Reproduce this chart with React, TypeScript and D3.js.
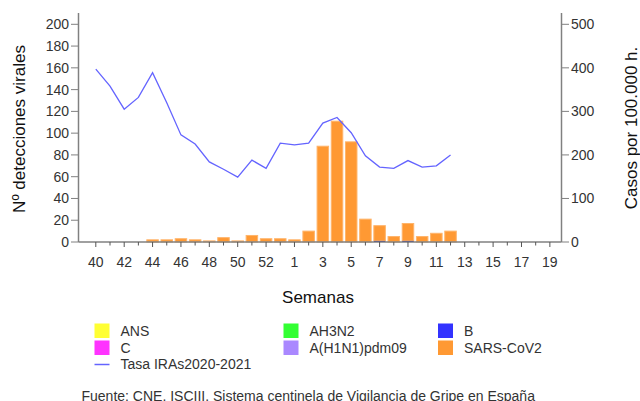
import React from 'react';
import * as d3 from 'd3';

// weeks of season 2020-2021 (2020 had 53 weeks)
const weeks = ['40','41','42','43','44','45','46','47','48','49','50','51','52','53',
  '1','2','3','4','5','6','7','8','9','10','11','12','13','14','15','16','17','18','19'];

// viral detections per week (only SARS-CoV2 and a couple of B appear)
const sarsCov2 = [0,0,0,0,2,2,3,2,1,4,1,6,3,3,2,10,88,111,92,21,14,5,16,5,8,10];
const bVirus = [0,0,0,0,0,0,0,0,0,0,0,0,0,0,0,0,0,0,0,0,1,0,1,0,0,0];

// ILI rate per 100.000 inhabitants
const tasaIras = [397,358,305,332,389,320,246,225,184,167,149,188,169,227,223,227,273,286,251,198,172,169,187,172,175,200];

const leftTicks = [0,20,40,60,80,100,120,140,160,180,200];
const rightTicks = [0,100,200,300,400,500];

const legendItems = [
  { name: 'ANS', color: '#ffff33', type: 'box' },
  { name: 'AH3N2', color: '#33ff33', type: 'box' },
  { name: 'B', color: '#3333ff', type: 'box' },
  { name: 'C', color: '#ff33ff', type: 'box' },
  { name: 'A(H1N1)pdm09', color: '#aa88ff', type: 'box' },
  { name: 'SARS-CoV2', color: '#ff9933', type: 'box' },
  { name: 'Tasa IRAs2020-2021', color: '#6464ff', type: 'line' },
];

const font = '"Liberation Sans", Arial, sans-serif';
const textColor = '#333';
const axisColor = '#808080';

export default function App() {
  const x = d3.scaleLinear().domain([-1.22, 32.82]).range([78.5, 561.5]);
  const yL = d3.scaleLinear().domain([0, 200]).range([242, 24.3]);
  const yR = d3.scaleLinear().domain([0, 500]).range([242, 24.3]);
  const barW = 11.5;

  const line = d3.line<number>()
    .x((d, i) => x(i))
    .y(d => yR(d));

  const legCols = [94.5, 283.5, 438];
  const legRows = [331, 348, 364.5];

  return (
    <svg width={640} height={401} style={{ position: 'absolute', left: 0, top: 0 }}
      fontFamily={font} fill={textColor}>
      <rect width={640} height={401} fill="#fff" />

      {/* bars: B at the bottom, SARS-CoV2 stacked on top */}
      {sarsCov2.map((v, i) => {
        const b = bVirus[i];
        if (v + b <= 0) return null;
        return (
          <g key={i}>
            {v > 0 && (
              <rect x={x(i) - barW / 2} y={yL(b + v)} width={barW} height={yL(b) - yL(b + v)}
                fill="#ff9933" stroke="#ffb46a" strokeWidth={1} />
            )}
            {b > 0 && (
              <rect x={x(i) - barW / 2} y={yL(b)} width={barW} height={yL(0) - yL(b)}
                fill="#1a1a9a" />
            )}
          </g>
        );
      })}

      {/* rate line */}
      <path d={line(tasaIras) || ''} fill="none" stroke="#6464ff" strokeWidth={1.3} />

      {/* left axis */}
      <line x1={78.5} x2={78.5} y1={13} y2={242} stroke={axisColor} strokeWidth={1.5} />
      {leftTicks.map(t => (
        <g key={t}>
          <line x1={71} x2={78.5} y1={yL(t)} y2={yL(t)} stroke={axisColor} />
          <text x={69} y={yL(t)} dy="0.35em" textAnchor="end" fontSize={14}>{t}</text>
        </g>
      ))}

      {/* right axis */}
      <line x1={561.5} x2={561.5} y1={13} y2={242} stroke={axisColor} strokeWidth={1.5} />
      {rightTicks.map(t => (
        <g key={t}>
          <line x1={561.5} x2={569} y1={yR(t)} y2={yR(t)} stroke={axisColor} />
          <text x={571} y={yR(t)} dy="0.35em" fontSize={14}>{t}</text>
        </g>
      ))}

      {/* x axis */}
      <line x1={78.5} x2={561.5} y1={242} y2={242} stroke={axisColor} strokeWidth={1.5} />
      {weeks.map((w, i) => (
        <g key={w}>
          <line x1={x(i)} x2={x(i)} y1={242} y2={i % 2 === 0 ? 247 : 245.5} stroke="#555" />
          {i % 2 === 0 && (
            <text x={x(i)} y={262} dy="0.35em" textAnchor="middle" fontSize={14}>{w}</text>
          )}
        </g>
      ))}

      {/* axis titles */}
      <text transform="translate(25,129) rotate(-90)" textAnchor="middle" fontSize={17} fill="#111">Nº detecciones virales</text>
      <text transform="translate(637,128) rotate(-90)" textAnchor="middle" fontSize={17} fill="#111">Casos por 100.000 h.</text>
      <text x={318} y={297} dy="0.35em" textAnchor="middle" fontSize={17} fill="#111">Semanas</text>

      {/* legend */}
      {legendItems.map((d, i) => {
        const cx = legCols[i % 3];
        const cy = legRows[Math.floor(i / 3)];
        return (
          <g key={d.name}>
            {d.type === 'box'
              ? <rect x={cx} y={cy - 7.5} width={15} height={14.5} fill={d.color} />
              : <line x1={cx} x2={cx + 15} y1={cy} y2={cy} stroke={d.color} strokeWidth={1.5} />}
            <text x={cx + 26} y={cy} dy="0.35em" fontSize={14}>{d.name}</text>
          </g>
        );
      })}

      <text x={81.5} y={396.5} dy="0.35em" fontSize={14}>Fuente: CNE. ISCIII. Sistema centinela de Vigilancia de Gripe en España</text>
    </svg>
  );
}
